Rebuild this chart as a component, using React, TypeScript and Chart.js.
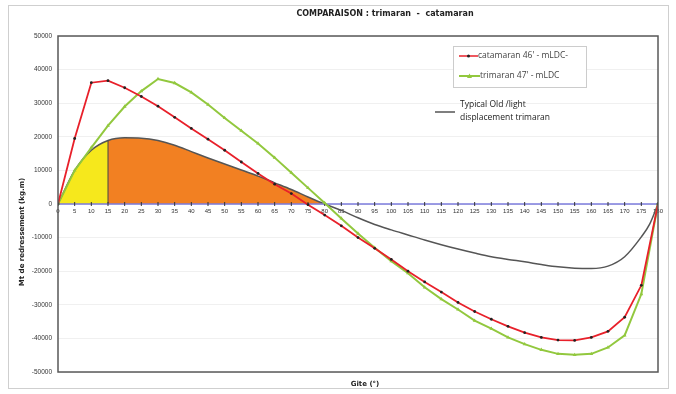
import React, { useEffect, useRef } from "react";
import { Chart, registerables } from "chart.js";

Chart.register(...registerables);

// ---- Data ----
const degrees = [0, 5, 10, 15, 20, 25, 30, 35, 40, 45, 50, 55, 60, 65, 70, 75, 80, 85, 90, 95, 100, 105, 110, 115, 120, 125, 130, 135, 140, 145, 150, 155, 160, 165, 170, 175, 180];
const catamaran46 = [0, 19500, 36100, 36700, 34600, 32000, 29100, 25800, 22500, 19300, 16000, 12500, 9100, 5900, 3100, -200, -3300, -6500, -10000, -13200, -16500, -20000, -23200, -26200, -29300, -32000, -34300, -36400, -38300, -39700, -40500, -40600, -39700, -37900, -33700, -24200, 0];
const trimaran47 = [0, 10000, 16800, 23300, 29000, 33600, 37200, 36000, 33200, 29600, 25600, 21800, 18000, 13800, 9300, 4800, 300, -4300, -8800, -13000, -17000, -20600, -24800, -28300, -31400, -34700, -37100, -39700, -41700, -43400, -44600, -44900, -44600, -42700, -39100, -26800, 0];
const typicalDeg = [0, 5, 10, 15, 20, 25, 30, 35, 40, 45, 50, 55, 60, 65, 70, 75, 80, 85, 90, 95, 100, 105, 110, 115, 120, 125, 130, 135, 140, 145, 150, 155, 160, 165, 170, 175, 177.5, 180];
const typicalTrimaran = [0, 10000, 16000, 18900, 19700, 19600, 18900, 17500, 15600, 13700, 11900, 10100, 8300, 6300, 4300, 2100, 0, -1900, -4100, -6100, -7700, -9200, -10700, -12100, -13400, -14600, -15700, -16500, -17200, -18000, -18700, -19100, -19200, -18500, -15700, -9800, -6000, 0];
const zeroLine = degrees.map(() => 0);
const yellowEnd = 15;
const orangeEnd = 80;

const titleText = "COMPARAISON : trimaran  -  catamaran";
const yTitle = "Mt de redressement (kg.m)";
const xTitle = "Gite (°)";
const legendCat = "catamaran 46' - mLDC-";
const legendTri = "trimaran 47' - mLDC";
const noteLines = ["Typical Old /light", "displacement trimaran"];

const RED = "#e8202a";
const GREEN = "#92c83e";
const GRAY = "#555555";
const BLUE = "#7b7bdc";
const YELLOW = "#f6e81c";
const ORANGE = "#f28022";

const decorPlugin = {
  id: "decor",
  beforeDraw(chart: any) {
    const ctx = chart.ctx;
    ctx.save();
    ctx.fillStyle = "#ffffff";
    ctx.fillRect(0, 0, chart.width, chart.height);
    ctx.strokeStyle = "#cfcfcf";
    ctx.lineWidth = 1;
    ctx.strokeRect(8.5, 5.5, 660, 383);
    ctx.restore();
  },
  afterDraw(chart: any) {
    const ctx = chart.ctx;
    const a = chart.chartArea;
    ctx.save();
    // plot border
    ctx.strokeStyle = "#585858";
    ctx.lineWidth = 1.5;
    ctx.strokeRect(a.left, a.top, a.right - a.left, a.bottom - a.top);

    // title
    ctx.fillStyle = "#222";
    ctx.textAlign = "center";
    ctx.textBaseline = "middle";
    ctx.font = 'bold 8px "DejaVu Sans"';
    ctx.fillText(titleText, 385, 14);

    // x title
    ctx.font = 'bold 7px "DejaVu Sans"';
    ctx.fillText(xTitle, 365, 384);

    // y title
    ctx.save();
    ctx.translate(22, 232);
    ctx.rotate(-Math.PI / 2);
    ctx.fillText(yTitle, 0, 0);
    ctx.restore();

    // legend box
    ctx.fillStyle = "#fff";
    ctx.fillRect(453, 46, 134, 41);
    ctx.strokeStyle = "#cccccc";
    ctx.lineWidth = 1;
    ctx.strokeRect(453.5, 46.5, 133, 41);

    ctx.lineWidth = 1.5;
    ctx.strokeStyle = RED;
    ctx.beginPath();
    ctx.moveTo(459, 56);
    ctx.lineTo(478, 56);
    ctx.stroke();
    ctx.fillStyle = "#222";
    ctx.beginPath();
    ctx.arc(468.5, 56, 1.5, 0, Math.PI * 2);
    ctx.fill();

    ctx.strokeStyle = GREEN;
    ctx.lineWidth = 2;
    ctx.beginPath();
    ctx.moveTo(459, 76);
    ctx.lineTo(480, 76);
    ctx.stroke();
    ctx.fillStyle = GREEN;
    ctx.beginPath();
    ctx.moveTo(469.5, 73.5);
    ctx.lineTo(472, 78);
    ctx.lineTo(467, 78);
    ctx.closePath();
    ctx.fill();

    ctx.font = '8.5px "Open Sans"';
    ctx.textAlign = "left";
    ctx.fillStyle = "#444";
    ctx.fillText(legendCat, 478, 56);
    ctx.fillText(legendTri, 480, 76);

    // annotation
    ctx.strokeStyle = GRAY;
    ctx.lineWidth = 1.5;
    ctx.beginPath();
    ctx.moveTo(435, 112);
    ctx.lineTo(455, 112);
    ctx.stroke();
    ctx.fillStyle = "#222";
    ctx.fillText(noteLines[0], 460, 104.5);
    ctx.fillText(noteLines[1], 460, 117.5);
    ctx.restore();
  },
};

export default function App() {
  const ref = useRef<HTMLCanvasElement | null>(null);

  useEffect(() => {
    if (!ref.current) return;
    const pts = (xs: number[], ys: number[]) => xs.map((x, i) => ({ x, y: ys[i] }));
    const boundaryIdx = typicalDeg.indexOf(yellowEnd);
    const chart = new Chart(ref.current, {
      type: "line",
      data: {
        datasets: [
          {
            label: legendCat,
            data: pts(degrees, catamaran46),
            borderColor: RED,
            borderWidth: 1.8,
            pointRadius: 1.4,
            pointBackgroundColor: "#222",
            pointBorderColor: "#222",
            pointBorderWidth: 0,
            tension: 0,
            fill: false,
          },
          {
            label: legendTri,
            data: pts(degrees, trimaran47),
            borderColor: GREEN,
            borderWidth: 2,
            pointStyle: "triangle",
            pointRadius: 2.2,
            pointBackgroundColor: GREEN,
            pointBorderColor: GREEN,
            pointBorderWidth: 0,
            tension: 0,
            fill: false,
          },
          {
            label: "zero",
            data: pts(degrees, zeroLine),
            borderColor: BLUE,
            borderWidth: 1.5,
            pointStyle: "line",
            rotation: 90,
            pointRadius: 2,
            pointBorderColor: "#333",
            pointBorderWidth: 1,
            fill: false,
          },
          {
            label: "divider",
            data: [
              { x: yellowEnd, y: 0 },
              { x: yellowEnd, y: typicalTrimaran[boundaryIdx] },
            ],
            borderColor: "#444",
            borderWidth: 1,
            pointRadius: 0,
            fill: false,
          },
          {
            label: "Typical Old /light displacement trimaran",
            data: pts(typicalDeg, typicalTrimaran),
            borderColor: GRAY,
            borderWidth: 1.5,
            pointRadius: 0,
            cubicInterpolationMode: "monotone",
            fill: "origin",
            backgroundColor: "rgba(0,0,0,0)",
            segment: {
              backgroundColor: (c: any) => {
                const x0 = c.p0.parsed.x;
                if (x0 < yellowEnd) return YELLOW;
                if (x0 < orangeEnd) return ORANGE;
                return "rgba(0,0,0,0)";
              },
            },
          } as any,
        ],
      },
      options: {
        animation: false,
        responsive: false,
        layout: { padding: { top: 36, right: 18, bottom: 22, left: 10 } },
        plugins: {
          legend: { display: false },
          tooltip: { enabled: false },
          title: { display: false },
        },
        scales: {
          x: {
            type: "linear",
            min: 0,
            max: 180,
            position: { y: 0 } as any,
            grid: { display: false, drawTicks: false },
            border: { display: false },
            ticks: {
              stepSize: 5,
              autoSkip: false,
              maxRotation: 0,
              padding: 4,
              color: "#333",
              font: { family: "Liberation Sans", size: 6 },
              callback: (v: any) => String(v),
            },
            afterFit: (s: any) => {
              s.height = 0;
            },
          },
          y: {
            type: "linear",
            min: -50000,
            max: 50000,
            grid: { color: "#f0f0f0", drawTicks: false },
            border: { display: false },
            ticks: {
              stepSize: 10000,
              padding: 6,
              color: "#333",
              font: { family: "Liberation Sans", size: 6.5 },
              callback: (v: any) => String(v),
            },
            afterFit: (s: any) => {
              s.width = 48;
            },
          },
        },
      },
      plugins: [decorPlugin],
    });
    return () => chart.destroy();
  }, []);

  return (
    <div style={{ position: "absolute", left: 0, top: 0, width: 676, height: 394 }}>
      <canvas ref={ref} width={676} height={394} style={{ display: "block" }} />
    </div>
  );
}
